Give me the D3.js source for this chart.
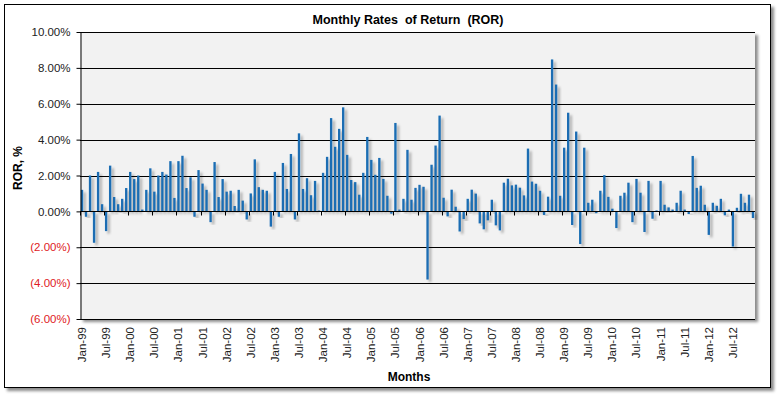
<!DOCTYPE html>
<html>
<head>
<meta charset="utf-8">
<script src="https://cdn.jsdelivr.net/npm/d3@7"></script>
<style>
  body { margin: 0; background: #fff; }
  text { font-family: "Liberation Sans", Arial, sans-serif; }
</style>
</head>
<body>
<svg id="chart" width="782" height="398"></svg>
<script>
// month names and years used to build the category list
var monthNames = ['Jan', 'Feb', 'Mar', 'Apr', 'May', 'Jun', 'Jul', 'Aug', 'Sep', 'Oct', 'Nov', 'Dec'];
var years = ['99', '00', '01', '02', '03', '04', '05', '06', '07', '08', '09', '10', '11', '12'];

// monthly rate of return, %, Jan-99 .. Dec-12
var ror = [
  1.2, -0.3, 2.0, -1.75, 2.2, 0.4, -1.1, 2.55, 0.8, 0.4, 0.7, 1.3,
  2.2, 1.8, 2.0, 0.1, 1.2, 2.4, 1.1, 2.0, 2.2, 2.05, 2.8, 0.75,
  2.8, 3.1, 1.3, 1.9, -0.3, 2.3, 1.55, 1.2, -0.6, 2.75, 0.8, 1.8,
  1.1, 1.15, 0.3, 1.2, 0.6, -0.45, 1.0, 2.9, 1.35, 1.2, 1.15, -0.85,
  2.2, -0.3, 2.7, 1.25, 3.2, -0.45, 4.35, 1.25, 1.85, 0.9, 1.7, 0.05,
  2.15, 3.04, 5.2, 3.6, 4.6, 5.8, 3.15, 1.75, 1.63, 0.93, 2.15, 4.15,
  2.87, 2.04, 2.98, 1.81, 0.87, -0.13, 4.93, 0.1, 0.7, 3.43, 0.65, 1.31,
  1.48, 1.37, -3.8, 2.6, 3.67, 5.34, 0.76, -0.28, 1.21, 0.26, -1.12, -0.43,
  0.7, 1.21, 0.99, -0.67, -1.0, -0.5, 0.65, -0.78, -1.06, 1.6, 1.82, 1.45,
  1.49, 1.32, 0.89, 3.5, 1.66, 1.54, 1.15, -0.2, 0.82, 8.47, 7.07, 0.87,
  3.55, 5.5, -0.76, 4.45, -1.82, 3.55, 0.48, 0.65, -0.1, 1.15, 2.02, 0.81,
  0.15, -0.93, 0.87, 1.04, 1.6, -0.6, 1.81, 1.04, -1.15, 1.7, -0.41, 0.05,
  1.7, 0.37, 0.22, 0.1, 0.48, 1.15, 0.1, -0.15, 3.09, 1.31, 1.43, 0.37,
  -1.31, 0.48, 0.31, 0.7, -0.22, 0.1, -1.96, 0.2, 0.98, 0.48, 0.93, -0.37
];

var yTicks = [-6, -4, -2, 0, 2, 4, 6, 8, 10];

// category labels like "Jan-99"
var categories = [];
years.forEach(function (y) {
  monthNames.forEach(function (m) { categories.push(m + '-' + y); });
});
// every sixth month gets a label
var xTickLabels = categories.filter(function (d, i) { return i % 6 === 0; });

var svg = d3.select('#chart'),
    plot = { left: 80, top: 32, right: 755, bottom: 319 };

var defs = svg.append('defs');
var sh = defs.append('filter').attr('id', 'shadow')
    .attr('x', '-20%').attr('y', '-20%').attr('width', '150%').attr('height', '150%');
sh.append('feDropShadow').attr('dx', 3).attr('dy', 3).attr('stdDeviation', 1.5)
    .attr('flood-color', '#000').attr('flood-opacity', 0.45);
var bsh = defs.append('filter').attr('id', 'barShadow')
    .attr('x', '-100%').attr('y', '-10%').attr('width', '400%').attr('height', '130%');
bsh.append('feDropShadow').attr('dx', 2.5).attr('dy', 2.5).attr('stdDeviation', 1.2)
    .attr('flood-color', '#000').attr('flood-opacity', 0.3);

// outer chart frame
svg.append('rect')
    .attr('x', 4.5).attr('y', 4.5).attr('width', 766).attr('height', 383)
    .attr('fill', '#fff').attr('stroke', '#000').attr('stroke-width', 1)
    .attr('filter', 'url(#shadow)');

// plot area
svg.append('rect')
    .attr('x', plot.left).attr('y', plot.top)
    .attr('width', plot.right - plot.left).attr('height', plot.bottom - plot.top)
    .attr('fill', '#f2f2f2')
    .attr('filter', 'url(#shadow)');

var x = d3.scaleBand()
    .domain(categories)
    .range([plot.left, plot.right])
    .paddingInner(0.42).paddingOuter(0.21);

var y = d3.scaleLinear().domain([-6, 10]).range([plot.bottom, plot.top]);

// gridlines
svg.append('g').selectAll('line')
    .data(yTicks.filter(function (d) { return d !== -6 && d !== 0; }))
    .enter().append('line')
    .attr('x1', plot.left).attr('x2', plot.right)
    .attr('y1', function (d) { return Math.round(y(d)) + 0.5; })
    .attr('y2', function (d) { return Math.round(y(d)) + 0.5; })
    .attr('stroke', '#000').attr('stroke-width', 1);

// bars
svg.append('g').selectAll('rect')
    .data(ror)
    .enter().append('rect')
    .attr('x', function (d, i) { return x(categories[i]); })
    .attr('width', x.bandwidth())
    .attr('y', function (d) { return y(Math.max(0, d)); })
    .attr('height', function (d) { return Math.abs(y(d) - y(0)); })
    .attr('fill', '#1a6db3')
    .attr('filter', 'url(#barShadow)');

// y axis
var fmt = function (d) {
  var s = Math.abs(d).toFixed(2) + '%';
  return d < 0 ? '(' + s + ')' : s;
};
var yAxis = svg.append('g')
    .attr('transform', 'translate(' + (plot.left + 0.5) + ',0)')
    .call(d3.axisLeft(y).tickValues(yTicks).tickSize(4).tickSizeOuter(0).tickFormat(fmt));
yAxis.select('.domain').attr('stroke', '#000');
yAxis.selectAll('.tick line').attr('stroke', '#000');
yAxis.selectAll('.tick text')
    .attr('x', -10)
    .style('font-size', '11.5px')
    .attr('fill', function (d) { return d < 0 ? '#e01b24' : '#222'; });

// bottom border of plot
svg.append('line')
    .attr('x1', plot.left).attr('x2', plot.right)
    .attr('y1', plot.bottom + 0.5).attr('y2', plot.bottom + 0.5)
    .attr('stroke', '#000');

// zero line with ticks at every six months
var zy = Math.round(y(0)) + 0.5;
svg.append('line')
    .attr('x1', plot.left).attr('x2', plot.right)
    .attr('y1', zy).attr('y2', zy)
    .attr('stroke', '#000');
var step = x.step();
svg.append('g').selectAll('line')
    .data(xTickLabels)
    .enter().append('line')
    .attr('x1', function (d) { return Math.round(x(d) - x.paddingInner() * step / 2) + 0.5; })
    .attr('x2', function (d) { return Math.round(x(d) - x.paddingInner() * step / 2) + 0.5; })
    .attr('y1', zy).attr('y2', zy + 4)
    .attr('stroke', '#000');

// x labels at the bottom, rotated
svg.append('g').selectAll('text')
    .data(xTickLabels)
    .enter().append('text')
    .attr('transform', function (d) {
      return 'translate(' + (x(d) + x.bandwidth() / 2 + 4) + ',' + (plot.bottom + 8) + ') rotate(-90)';
    })
    .attr('text-anchor', 'end')
    .style('font-size', '11.5px')
    .attr('fill', '#222')
    .text(function (d) { return d; });

// titles
svg.append('text')
    .attr('x', 408).attr('y', 24)
    .attr('text-anchor', 'middle')
    .style('font-size', '12.5px').style('font-weight', 'bold')
    .attr('xml:space', 'preserve')
    .text('Monthly Rates  of Return  (ROR)');

svg.append('text')
    .attr('x', 409).attr('y', 381)
    .attr('text-anchor', 'middle')
    .style('font-size', '12px').style('font-weight', 'bold')
    .text('Months');

svg.append('text')
    .attr('transform', 'translate(22,168) rotate(-90)')
    .attr('text-anchor', 'middle')
    .style('font-size', '12px').style('font-weight', 'bold')
    .text('ROR, %');
</script>
</body>
</html>
